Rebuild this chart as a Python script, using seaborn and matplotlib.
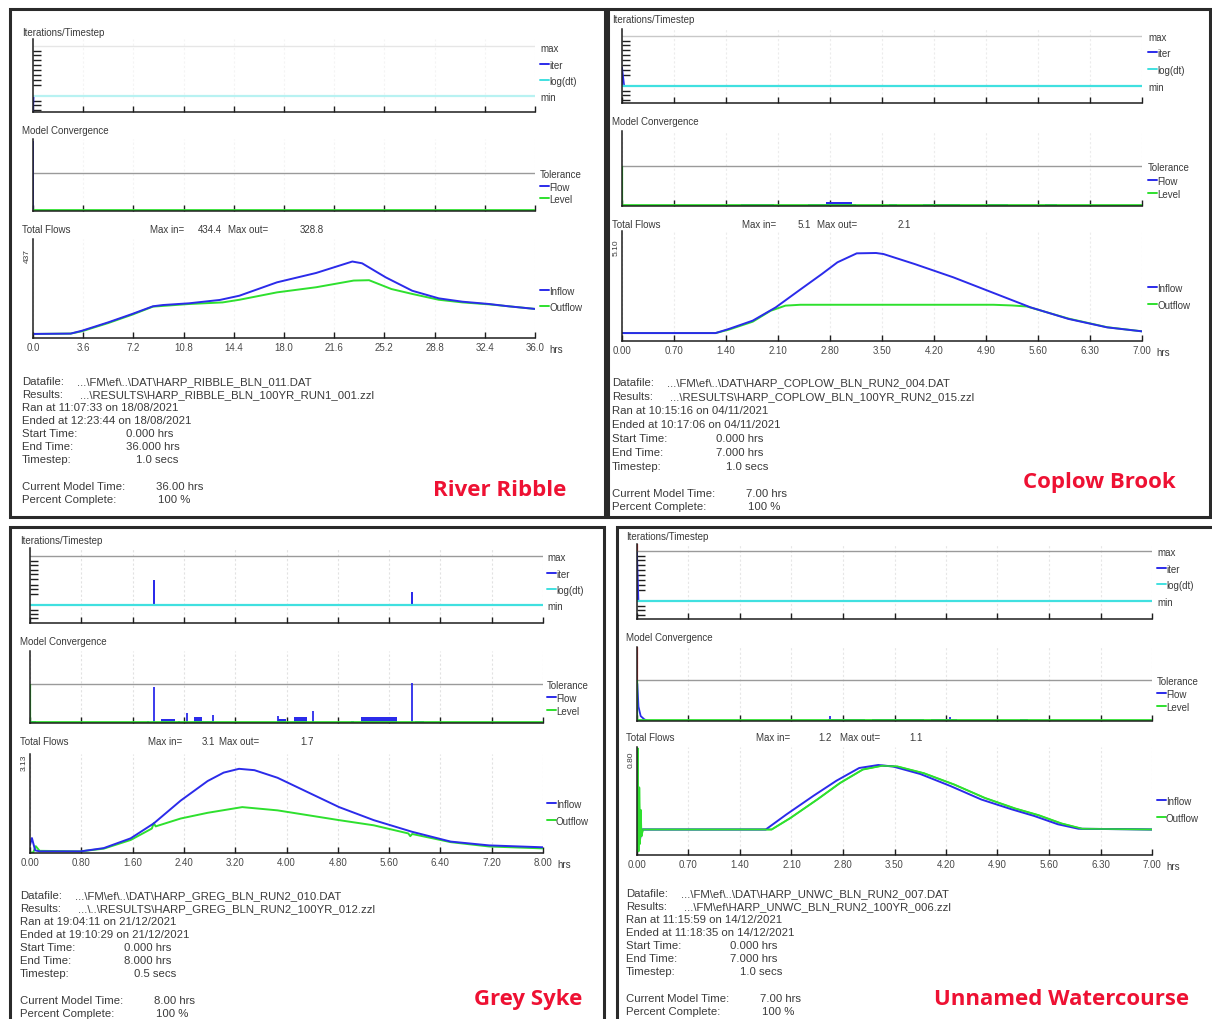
import numpy as np
import matplotlib
matplotlib.use("Agg")
import matplotlib.pyplot as plt
import seaborn as sns
from matplotlib.lines import Line2D
from matplotlib.patches import Rectangle

# =========================
# DATA (read off the four Flood Modeller run windows)
# =========================

# River Ribble - total flows (hrs, m3/s)
ribble_in_t = [0, 2.7, 3.5, 5.4, 7.1, 8.6, 9.3, 11.2, 13.4, 14.8, 17.5, 20.3, 22.9, 23.6, 25.3, 27.2, 29.1, 30.8, 32.7, 34.1, 36.0]
ribble_in_q = [23, 25, 41, 89, 136, 180, 187, 197, 216, 240, 316, 369, 434, 424, 344, 268, 225, 206, 193, 180, 165]
ribble_out_t = [0, 2.7, 3.5, 5.4, 7.1, 8.6, 11.2, 13.6, 14.8, 17.5, 20.3, 23.0, 24.1, 25.7, 27.2, 29.1, 30.8, 32.7, 36.0]
ribble_out_q = [23, 25, 38, 85, 132, 178, 193, 202, 217, 259, 288, 326, 328, 278, 250, 217, 202, 191, 165]
ribble_iter_t = [0, 0, 0.05, 36]
ribble_iter_v = [3, 0.4, 3, 3]
ribble_spike_t = [0]
ribble_spike_h = [1.85]
ribble_blk_t0, ribble_blk_t1, ribble_blk_h = [], [], []
ribble_xlabels = ["0.0", "3.6", "7.2", "10.8", "14.4", "18.0", "21.6", "25.2", "28.8", "32.4", "36.0"]
ribble_info = ["...\\FM\\ef\\..\\DAT\\HARP_RIBBLE_BLN_011.DAT",
               "...\\RESULTS\\HARP_RIBBLE_BLN_100YR_RUN1_001.zzl",
               "Ran at 11:07:33 on 18/08/2021", "Ended at 12:23:44 on 18/08/2021",
               "0.000 hrs", "36.000 hrs", "1.0 secs", "36.00 hrs", "100 %"]

# Coplow Brook
coplow_in_t = [0, 1.26, 1.44, 1.76, 2.07, 2.38, 2.69, 2.90, 3.16, 3.42, 3.52, 3.94, 4.46, 4.98, 5.50, 6.01, 6.53, 7.0]
coplow_in_q = [0.46, 0.46, 0.70, 1.18, 1.95, 2.92, 3.88, 4.56, 5.08, 5.10, 5.04, 4.46, 3.69, 2.82, 1.95, 1.28, 0.79, 0.56]
coplow_out_t = [0, 1.26, 1.44, 1.76, 2.0, 2.2, 2.4, 5.0, 5.25, 5.45, 6.01, 6.53, 7.0]
coplow_out_q = [0.46, 0.46, 0.66, 1.12, 1.75, 2.05, 2.10, 2.10, 2.06, 2.0, 1.30, 0.80, 0.56]
coplow_iter_t = [0, 0, 0.03, 7]
coplow_iter_v = [3, 6, 3, 3]
coplow_spike_t = [0]
coplow_spike_h = [0.9]
coplow_blk_t0 = [1.6, 2.5, 2.75, 3.6, 4.05, 4.9, 5.7]
coplow_blk_t1 = [2.05, 3.15, 3.1, 3.7, 4.55, 5.2, 5.85]
coplow_blk_h = [0.05, 0.06, 0.1, 0.05, 0.06, 0.05, 0.04]
coplow_xlabels = ["0.00", "0.70", "1.40", "2.10", "2.80", "3.50", "4.20", "4.90", "5.60", "6.30", "7.00"]
coplow_info = ["...\\FM\\ef\\..\\DAT\\HARP_COPLOW_BLN_RUN2_004.DAT",
               "...\\RESULTS\\HARP_COPLOW_BLN_100YR_RUN2_015.zzl",
               "Ran at 10:15:16 on 04/11/2021", "Ended at 10:17:06 on 04/11/2021",
               "0.000 hrs", "7.000 hrs", "1.0 secs", "7.00 hrs", "100 %"]

# Grey Syke
greysyke_in_t = [0, 0.03, 0.08, 0.15, 0.79, 1.15, 1.57, 1.93, 2.35, 2.77, 3.02, 3.26, 3.50, 3.86, 4.34, 4.82, 5.36, 5.96, 6.56, 7.16, 8.0]
greysyke_in_q = [0.30, 0.55, 0.10, 0.06, 0.06, 0.18, 0.54, 1.09, 1.93, 2.65, 2.96, 3.10, 3.05, 2.77, 2.23, 1.69, 1.21, 0.78, 0.42, 0.28, 0.21]
greysyke_out_t = [0, 0.05, 0.09, 0.15, 0.79, 1.15, 1.57, 1.90, 1.93, 1.96, 2.35, 2.77, 3.31, 3.86, 4.82, 5.36, 5.90, 5.93, 5.96, 6.56, 7.16, 8.0]
greysyke_out_q = [0.02, 0.02, 0.25, 0.08, 0.06, 0.16, 0.48, 0.90, 1.10, 0.98, 1.27, 1.48, 1.69, 1.57, 1.21, 1.02, 0.72, 0.62, 0.70, 0.40, 0.24, 0.17]
greysyke_iter_t = [0, 1.93, 1.93, 1.93, 5.96, 5.96, 5.96, 8]
greysyke_iter_v = [3, 3, 7, 3, 3, 5, 3, 3]
greysyke_spike_t = [0.0, 1.84, 1.93, 2.45, 2.86, 3.87, 4.41, 5.96]
greysyke_spike_h = [0.15, 0.05, 0.93, 0.26, 0.21, 0.19, 0.30, 1.03]
greysyke_blk_t0 = [0.0, 2.05, 2.31, 2.56, 2.68, 3.87, 4.11, 5.01, 5.16, 6.0]
greysyke_blk_t1 = [0.1, 2.26, 2.34, 2.68, 2.86, 3.99, 4.32, 5.05, 5.73, 6.15]
greysyke_blk_h = [0.05, 0.10, 0.05, 0.15, 0.04, 0.10, 0.15, 0.04, 0.15, 0.05]
greysyke_xlabels = ["0.00", "0.80", "1.60", "2.40", "3.20", "4.00", "4.80", "5.60", "6.40", "7.20", "8.00"]
greysyke_info = ["...\\FM\\ef\\..\\DAT\\HARP_GREG_BLN_RUN2_010.DAT",
                 "...\\..\\RESULTS\\HARP_GREG_BLN_RUN2_100YR_012.zzl",
                 "Ran at 19:04:11 on 21/12/2021", "Ended at 19:10:29 on 21/12/2021",
                 "0.000 hrs", "8.000 hrs", "0.5 secs", "8.00 hrs", "100 %"]

# Unnamed Watercourse
unnamed_in_t = [0, 0.02, 0.04, 0.06, 1.75, 2.03, 2.40, 2.71, 3.02, 3.28, 3.48, 3.85, 4.26, 4.68, 5.09, 5.40, 5.72, 6.00, 7.0]
unnamed_in_q = [0.34, 0.90, 0.20, 0.34, 0.34, 0.54, 0.79, 0.99, 1.16, 1.20, 1.18, 1.08, 0.92, 0.74, 0.61, 0.52, 0.41, 0.35, 0.34]
unnamed_out_t = [0, 0.01, 0.02, 0.03, 0.04, 0.05, 0.06, 0.08, 1.83, 2.08, 2.45, 2.76, 3.07, 3.33, 3.54, 3.90, 4.31, 4.73, 5.14, 5.46, 5.77, 6.05, 7.0]
unnamed_out_q = [0.34, 1.42, 0.05, 0.90, 0.15, 0.60, 0.25, 0.34, 0.34, 0.49, 0.74, 0.96, 1.14, 1.19, 1.18, 1.09, 0.94, 0.76, 0.62, 0.53, 0.42, 0.35, 0.34]
unnamed_iter_t = [0, 0, 0.02, 7]
unnamed_iter_v = [3, 11, 3, 3]
unnamed_conv_t = [0, 0.005, 0.02, 0.05, 0.1, 0.15, 7]
unnamed_conv_v = [0.95, 0.9, 0.35, 0.12, 0.04, 0.0, 0.0]
unnamed_spike_t = [1.65, 2.62, 4.25, 5.3]
unnamed_spike_h = [0.03, 0.12, 0.10, 0.06]
unnamed_blk_t0 = [2.6, 3.2, 4.0, 4.6, 5.2]
unnamed_blk_t1 = [3.1, 3.9, 4.35, 4.75, 5.3]
unnamed_blk_h = [0.04, 0.04, 0.05, 0.03, 0.04]
unnamed_xlabels = ["0.00", "0.70", "1.40", "2.10", "2.80", "3.50", "4.20", "4.90", "5.60", "6.30", "7.00"]
unnamed_info = ["...\\FM\\ef\\..\\DAT\\HARP_UNWC_BLN_RUN2_007.DAT",
                "...\\FM\\ef\\HARP_UNWC_BLN_RUN2_100YR_006.zzl",
                "Ran at 11:15:59 on 14/12/2021", "Ended at 11:18:35 on 14/12/2021",
                "0.000 hrs", "7.000 hrs", "1.0 secs", "7.00 hrs", "100 %"]

info_labels = ["Datafile:", "Results:", "", "", "Start Time:", "End Time:", "Timestep:",
               "Current Model Time:", "Percent Complete:"]
info_dx = [55, 58, 0, 0, 104, 104, 114, 134, 136]
iter_yticks = [0.8, 1.5, 2.2, 4.8, 5.6, 6.3, 7.2, 8.0, 8.75, 9.5, 10.2]

# =========================
# STYLE
# =========================
sns.set_theme(style="white")
plt.rcParams["font.family"] = ["Liberation Sans", "DejaVu Sans"]

W, H = 1212, 1020
BLUE = "#2b2bea"
GREEN = "#2ee02e"
CYAN = "#40e0e0"
GREY = "#9a9a9a"
RED = "#ee1133"
TXT = "#3a3a3a"
AX = "#1e1e1e"

fig = plt.figure(figsize=(W / 100, H / 100), dpi=100)
fig.patch.set_facecolor("white")


def px_axes(x0, x1, top, bottom):
    return fig.add_axes([x0 / W, 1 - bottom / H, (x1 - x0) / W, (bottom - top) / H])


def put(x, y, s, size=7, color=TXT, ha="left", va="center_baseline", **kw):
    fig.text(x / W, 1 - y / H, s, fontsize=size, color=color, ha=ha, va=va, **kw)


def leg(x, y, s, color=None):
    if color:
        fig.add_artist(Line2D([x / W, (x + 9) / W], [1 - y / H] * 2, color=color, lw=1.4))
        put(x + 9, y, s)
    else:
        put(x, y, s)


def base_style(ax, t_end, grid):
    ax.set_facecolor("none")
    for s in ["top", "right"]:
        ax.spines[s].set_visible(False)
    for s in ["left", "bottom"]:
        ax.spines[s].set_color(AX)
        ax.spines[s].set_linewidth(1.1)
    ax.set_xlim(0, t_end)
    ax.set_xticks(np.linspace(0, t_end, 11))
    ax.tick_params(axis="x", bottom=True, direction="in", length=4, width=1, color=AX,
                   labelsize=7, labelcolor="#4a4a4a", pad=3)
    ax.tick_params(axis="y", left=False, labelleft=False)
    if grid:
        ax.grid(axis="x", color=grid, lw=0.8, ls=(0, (2, 2)))
    ax.set_xlabel("")
    ax.set_ylabel("")


def line(ax, t, v, color, lw=1.3):
    sns.lineplot(x=t, y=v, ax=ax, color=color, lw=lw, estimator=None, sort=False, legend=False)


def draw_panel(p):
    L = p["layout"]
    x0, x1 = L["ax_x"]
    t_end = p["t_end"]
    tx = L["title_x"]
    bx0, by0, bx1, by1 = L["box"]
    fig.add_artist(Rectangle((bx0 / W, 1 - by1 / H), (bx1 - bx0) / W, (by1 - by0) / H,
                             transform=fig.transFigure, fill=False, ec="#2a2a2a", lw=2.2))

    # ---- Iterations/Timestep
    top, bot = L["iter"]
    mx, mn = L["max_px"], L["min_px"]
    unit = (mn - mx) / 8
    ax = px_axes(x0, x1, top, bot)
    base_style(ax, t_end, L["grid"])
    line(ax, p["iter_t"], p["iter_v"], BLUE, 1.2)
    line(ax, [0, t_end], [3, 3], L["cyan"], 1.6)
    ax.axhline(11, color=L["maxcol"], lw=1)
    if p.get("red"):
        ax.vlines([0], 11, 12.5, color="#f03030", lw=1.6)
    ax.set_ylim(3 - (bot - mn) / unit, 11 + (mx - top) / unit)
    ax.set_yticks(iter_yticks)
    ax.tick_params(axis="y", left=True, direction="in", length=6, width=1, color=AX, labelleft=False)
    ax.tick_params(axis="x", labelbottom=False)
    put(tx, L["titles"][0], "Iterations/Timestep")
    lx = L["leg_x"]
    ly = L["iter_leg"]
    leg(lx, ly[0], "max")
    leg(lx, ly[1], "iter", BLUE)
    leg(lx, ly[2], "log(dt)", CYAN)
    leg(lx, ly[3], "min")

    # ---- Model Convergence
    top, bot = L["conv"]
    ax = px_axes(x0, x1, top, bot)
    base_style(ax, t_end, L["grid"])
    ax.axhline(1, color=GREY, lw=1)
    if p.get("conv_t"):
        line(ax, p["conv_t"], p["conv_v"], BLUE, 1.3)
    ax.vlines(p["spike_t"], 0, p["spike_h"], color=BLUE, lw=1.3)
    for a, b, h in zip(p["blk_t0"], p["blk_t1"], p["blk_h"]):
        ax.fill_between([a, b], 0, h, color=BLUE, lw=0)
    if p.get("red"):
        ax.vlines([0], 1, 2.0, color="#f03030", lw=1.6)
    if p.get("level_spike"):
        ax.vlines([0], 0, 1, color=GREEN, lw=1.6)
    line(ax, [0, t_end], [0.015, 0.015], GREEN, 2.0)
    ax.set_ylim(0, (bot - top) / (bot - L["tol_px"]))
    ax.tick_params(axis="x", labelbottom=False)
    put(tx, L["titles"][1], "Model Convergence")
    ly = L["conv_leg"]
    leg(lx, ly[0], "Tolerance")
    leg(lx, ly[1], "Flow", BLUE)
    leg(lx, ly[2], "Level", GREEN)

    # ---- Total Flows
    top, bot = L["flow"]
    ax = px_axes(x0, x1, top, bot)
    base_style(ax, t_end, L["grid"])
    line(ax, p["out_t"], p["out_q"], GREEN, 1.4)
    line(ax, p["in_t"], p["in_q"], BLUE, 1.4)
    if p.get("green_top"):
        line(ax, p["out_t"], p["out_q"], GREEN, 1.1)
    ax.set_ylim(0, p["ylab_val"] * (bot - top) / (bot - L["ylab_px"]))
    ax.set_xticklabels(p["xlabels"])
    put(x1 + 14, bot + 10, "hrs")
    fig.text((x0 - 6) / W, 1 - (L["ylab_px"] - 6) / H, p["ylab"], fontsize=6, color=TXT,
             rotation=90, ha="center", va="center")
    put(tx, L["titles"][2], "Total Flows")
    mxx = L["maxin"]
    my = L["titles"][2]
    put(mxx[0], my, "Max in=")
    put(mxx[1], my, p["max_in"], ha="right")
    put(mxx[2], my, "Max out=")
    put(mxx[3], my, p["max_out"], ha="right")
    ly = L["flow_leg"]
    leg(lx, ly[0], "Inflow", BLUE)
    leg(lx, ly[1], "Outflow", GREEN)

    # ---- run info
    ix, iy, step = L["info"]
    for i, (lab, val) in enumerate(zip(info_labels, p["info"])):
        y = iy + i * step if i < 7 else iy + 6 * step + 27 + (i - 7) * 13
        if lab:
            put(ix, y, lab, size=8.2)
            put(ix + info_dx[i], y, val, size=8.2)
        else:
            put(ix, y, val, size=8.2)

    put(L["name_xy"][0], L["name_xy"][1], p["name"], size=16, color=RED, ha="center",
        va="center", family=["Open Sans", "Roboto", "DejaVu Sans"], fontweight="bold")


panels = [
    dict(name="River Ribble", t_end=36.0,
         in_t=ribble_in_t, in_q=ribble_in_q, out_t=ribble_out_t, out_q=ribble_out_q,
         iter_t=ribble_iter_t, iter_v=ribble_iter_v,
         spike_t=ribble_spike_t, spike_h=ribble_spike_h,
         blk_t0=ribble_blk_t0, blk_t1=ribble_blk_t1, blk_h=ribble_blk_h,
         xlabels=ribble_xlabels, info=ribble_info, ylab="437", ylab_val=437,
         max_in="434.4", max_out="328.8",
         layout=dict(box=(10, 10, 605, 518), ax_x=(33, 535), iter=(40, 113), max_px=47, min_px=97,
                     conv=(140, 212), tol_px=174, flow=(240, 339), ylab_px=262,
                     title_x=22, titles=(32, 130, 229), maxin=(150, 222, 228, 324),
                     leg_x=540, iter_leg=(48, 65, 81, 97), conv_leg=(174, 187, 199), flow_leg=(291, 307),
                     info=(22, 381, 13), name_xy=(500, 491), grid="#f4f4f4",
                     cyan="#b8f2f2", maxcol="#e6e6e6")),
    dict(name="Coplow Brook", t_end=7.0,
         in_t=coplow_in_t, in_q=coplow_in_q, out_t=coplow_out_t, out_q=coplow_out_q,
         iter_t=coplow_iter_t, iter_v=coplow_iter_v,
         spike_t=coplow_spike_t, spike_h=coplow_spike_h, level_spike=True,
         blk_t0=coplow_blk_t0, blk_t1=coplow_blk_t1, blk_h=coplow_blk_h,
         xlabels=coplow_xlabels, info=coplow_info, ylab="5.10", ylab_val=5.1,
         max_in="5.1", max_out="2.1",
         layout=dict(box=(608, 10, 1210, 518), ax_x=(622, 1142), iter=(30, 104), max_px=37, min_px=87,
                     conv=(132, 207), tol_px=167, flow=(232, 342), ylab_px=254,
                     title_x=612, titles=(19, 121, 224), maxin=(742, 811, 817, 911),
                     leg_x=1148, iter_leg=(37, 53, 70, 87), conv_leg=(167, 181, 194), flow_leg=(288, 305),
                     info=(612, 382, 14), name_xy=(1099, 483), grid="#ececec",
                     cyan=CYAN, maxcol="#c8c8c8")),
    dict(name="Grey Syke", t_end=8.0,
         in_t=greysyke_in_t, in_q=greysyke_in_q, out_t=greysyke_out_t, out_q=greysyke_out_q,
         iter_t=greysyke_iter_t, iter_v=greysyke_iter_v,
         spike_t=greysyke_spike_t, spike_h=greysyke_spike_h, level_spike=True,
         blk_t0=greysyke_blk_t0, blk_t1=greysyke_blk_t1, blk_h=greysyke_blk_h,
         xlabels=greysyke_xlabels, info=greysyke_info, ylab="3.13", ylab_val=3.13,
         max_in="3.1", max_out="1.7",
         layout=dict(box=(10, 528, 604, 1035), ax_x=(30, 543), iter=(549, 624), max_px=557, min_px=606,
                     conv=(652, 724), tol_px=685, flow=(755, 854), ylab_px=769,
                     title_x=20, titles=(540, 641, 741), maxin=(148, 215, 219, 314),
                     leg_x=547, iter_leg=(557, 574, 590, 606), conv_leg=(685, 698, 711), flow_leg=(804, 821),
                     info=(20, 895, 13), name_xy=(528, 1000), grid="#e2e2e2",
                     cyan=CYAN, maxcol=GREY)),
    dict(name="Unnamed Watercourse", t_end=7.0, red=True, level_spike=True, green_top=True,
         in_t=unnamed_in_t, in_q=unnamed_in_q, out_t=unnamed_out_t, out_q=unnamed_out_q,
         iter_t=unnamed_iter_t, iter_v=unnamed_iter_v,
         conv_t=unnamed_conv_t, conv_v=unnamed_conv_v,
         spike_t=unnamed_spike_t, spike_h=unnamed_spike_h,
         blk_t0=unnamed_blk_t0, blk_t1=unnamed_blk_t1, blk_h=unnamed_blk_h,
         xlabels=unnamed_xlabels, info=unnamed_info, ylab="0.80", ylab_val=1.2,
         max_in="1.2", max_out="1.1",
         layout=dict(box=(617, 528, 1216, 1035), ax_x=(637, 1152), iter=(545, 620), max_px=552, min_px=602,
                     conv=(648, 722), tol_px=681, flow=(748, 856), ylab_px=766,
                     title_x=626, titles=(536, 637, 737), maxin=(756, 832, 840, 923),
                     leg_x=1157, iter_leg=(552, 569, 585, 602), conv_leg=(681, 694, 707), flow_leg=(801, 818),
                     info=(626, 893, 13), name_xy=(1062, 1000), grid="#e6e6e6",
                     cyan=CYAN, maxcol=GREY)),
]

for p in panels:
    draw_panel(p)

fig.savefig("out.png", dpi=100, facecolor="white")
